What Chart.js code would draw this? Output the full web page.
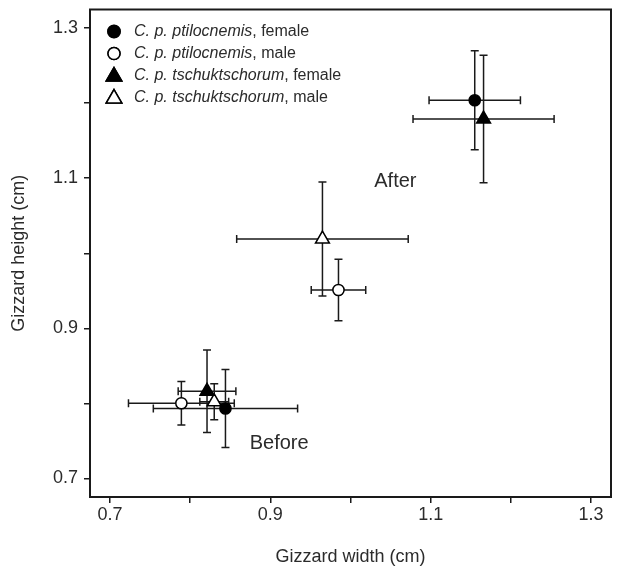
<!DOCTYPE html>
<html>
<head>
<meta charset="utf-8">
<script src="https://cdn.jsdelivr.net/npm/chart.js@4.4.0/dist/chart.umd.min.js"></script>
<style>
    html, body { margin: 0; padding: 0; background: #fff; }
    #wrap { width: 624px; height: 572px; }
</style>
</head>
<body>
<div id="wrap"><canvas id="gizzardChart" width="624" height="572"></canvas></div>
<script>
// ===========================
// DATA
// ===========================

const species = ['C. p. ptilocnemis', 'C. p. ptilocnemis', 'C. p. tschuktschorum', 'C. p. tschuktschorum'];
const sexes = ['female', 'male', 'female', 'male'];
const markerStyles = ['circle', 'circle', 'triangle', 'triangle'];
const markerFills = ['#000000', '#ffffff', '#000000', '#ffffff'];

// gizzard width (cm), mean and error
const widthBefore = [0.844, 0.789, 0.821, 0.830];
const widthAfter = [1.155, 0.985, 1.166, 0.965];
const widthErrBefore = [0.090, 0.066, 0.036, 0.018];
const widthErrAfter = [0.057, 0.034, 0.088, 0.107];

// gizzard height (cm), mean and error
const heightBefore = [0.793, 0.800, 0.816, 0.802];
const heightAfter = [1.204, 0.951, 1.179, 1.019];
const heightErrBefore = [0.052, 0.029, 0.055, 0.024];
const heightErrAfter = [0.066, 0.041, 0.085, 0.076];

const tickValues = [0.7, 0.8, 0.9, 1.0, 1.1, 1.2, 1.3];
const tickLabels = ['0.7', '0.9', '1.1', '1.3'];

const noteText = ['Before', 'After'];
const noteX = [0.911, 1.056];
const noteY = [0.7465, 1.096];

const FONT = 'Arial, "Liberation Sans", Helvetica, sans-serif';
const TEXT_COLOR = '#2b2b2b';
const LINE_COLOR = '#1a1a1a';

// ===========================
// DATASETS
// ===========================

const datasets = species.map((sp, i) => ({
    label: sp + ', ' + sexes[i],
    data: [
        { x: widthBefore[i], y: heightBefore[i], xErr: widthErrBefore[i], yErr: heightErrBefore[i] },
        { x: widthAfter[i], y: heightAfter[i], xErr: widthErrAfter[i], yErr: heightErrAfter[i] }
    ],
    pointStyle: markerStyles[i],
    pointRadius: markerStyles[i] === 'triangle' ? 8 : 5.6,
    pointBackgroundColor: markerFills[i],
    pointBorderColor: '#000000',
    pointBorderWidth: 1.5,
    showLine: false
}));

// ===========================
// PLUGINS
// ===========================

// error bars with caps, drawn under the markers
const errorBars = {
    id: 'errorBars',
    beforeDatasetsDraw(chart) {
        const ctx = chart.ctx;
        const xs = chart.scales.x;
        const ys = chart.scales.y;
        const cap = 4;
        ctx.save();
        ctx.strokeStyle = LINE_COLOR;
        ctx.lineWidth = 1.5;
        chart.data.datasets.forEach(ds => {
            ds.data.forEach(p => {
                const cx = xs.getPixelForValue(p.x);
                const cy = ys.getPixelForValue(p.y);
                const x0 = xs.getPixelForValue(p.x - p.xErr);
                const x1 = xs.getPixelForValue(p.x + p.xErr);
                const y0 = ys.getPixelForValue(p.y - p.yErr);
                const y1 = ys.getPixelForValue(p.y + p.yErr);
                ctx.beginPath();
                ctx.moveTo(x0, cy); ctx.lineTo(x1, cy);
                ctx.moveTo(x0, cy - cap); ctx.lineTo(x0, cy + cap);
                ctx.moveTo(x1, cy - cap); ctx.lineTo(x1, cy + cap);
                ctx.moveTo(cx, y0); ctx.lineTo(cx, y1);
                ctx.moveTo(cx - cap, y0); ctx.lineTo(cx + cap, y0);
                ctx.moveTo(cx - cap, y1); ctx.lineTo(cx + cap, y1);
                ctx.stroke();
            });
        });
        ctx.restore();
    }
};

// frame, legend and Before/After notes
const decorations = {
    id: 'decorations',
    afterDraw(chart) {
        const ctx = chart.ctx;
        const area = chart.chartArea;
        const xs = chart.scales.x;
        const ys = chart.scales.y;

        ctx.save();
        ctx.strokeStyle = LINE_COLOR;
        ctx.lineWidth = 2;
        ctx.strokeRect(area.left, area.top, area.right - area.left, area.bottom - area.top);

        // notes
        ctx.fillStyle = TEXT_COLOR;
        ctx.font = '20px ' + FONT;
        ctx.textAlign = 'center';
        ctx.textBaseline = 'middle';
        noteText.forEach((t, i) => {
            ctx.fillText(t, xs.getPixelForValue(noteX[i]), ys.getPixelForValue(noteY[i]));
        });

        // legend
        ctx.textAlign = 'left';
        chart.data.datasets.forEach((ds, i) => {
            const ly = area.top + 22 + i * 22;
            const lx = area.left + 24;
            Chart.helpers.drawPoint(ctx, {
                pointStyle: ds.pointStyle,
                radius: ds.pointStyle === 'triangle' ? 9 : 6,
                rotation: 0,
                borderWidth: 1.5
            }, lx, ly + (ds.pointStyle === 'triangle' ? 1 : 0));
            ctx.fillStyle = ds.pointBackgroundColor;
            ctx.strokeStyle = '#000000';
            ctx.lineWidth = 1.5;
            ctx.fill();
            ctx.stroke();

            ctx.fillStyle = TEXT_COLOR;
            ctx.font = 'italic 16px ' + FONT;
            const tx = area.left + 44;
            ctx.fillText(species[i], tx, ly);
            const w = ctx.measureText(species[i]).width;
            ctx.font = '16px ' + FONT;
            ctx.fillText(', ' + sexes[i], tx + w, ly);
        });
        ctx.restore();
    }
};

// ===========================
// AXES
// ===========================

function axisOptions(title, titlePadding) {
    return {
        type: 'linear',
        min: 0.675,
        max: 1.325,
        afterBuildTicks: scale => {
            scale.ticks = tickValues.map(v => ({ value: v }));
        },
        border: { display: false },
        grid: {
            drawOnChartArea: false,
            drawTicks: true,
            tickLength: 6,
            color: LINE_COLOR,
            lineWidth: 1.5
        },
        ticks: {
            color: TEXT_COLOR,
            font: { size: 18, family: FONT },
            maxRotation: 0,
            autoSkip: false,
            callback: function (value) {
                const s = value.toFixed(1);
                return tickLabels.includes(s) ? s : '';
            }
        },
        title: {
            display: true,
            text: title,
            color: TEXT_COLOR,
            font: { size: 18, family: FONT },
            padding: titlePadding
        }
    };
}

const xAxis = axisOptions('Gizzard width (cm)', { top: 0, bottom: 4 });
xAxis.ticks.padding = 1;
xAxis.afterFit = scale => {
    scale.height = 75;
    scale.paddingLeft = 0;
    scale.paddingRight = 0;
};

const yAxis = axisOptions('Gizzard height (cm)', { top: 8, bottom: 0 });
yAxis.ticks.padding = 6;
yAxis.afterFit = scale => {
    scale.width = 90;
    scale.paddingTop = 0;
    scale.paddingBottom = 0;
};

new Chart(document.getElementById('gizzardChart'), {
    type: 'scatter',
    data: { datasets: datasets },
    options: {
        responsive: false,
        animation: false,
        layout: { padding: { top: 8, right: 13, bottom: 0, left: 0 } },
        plugins: {
            legend: { display: false },
            tooltip: { enabled: false }
        },
        scales: { x: xAxis, y: yAxis }
    },
    plugins: [errorBars, decorations]
});
</script>
</body>
</html>
